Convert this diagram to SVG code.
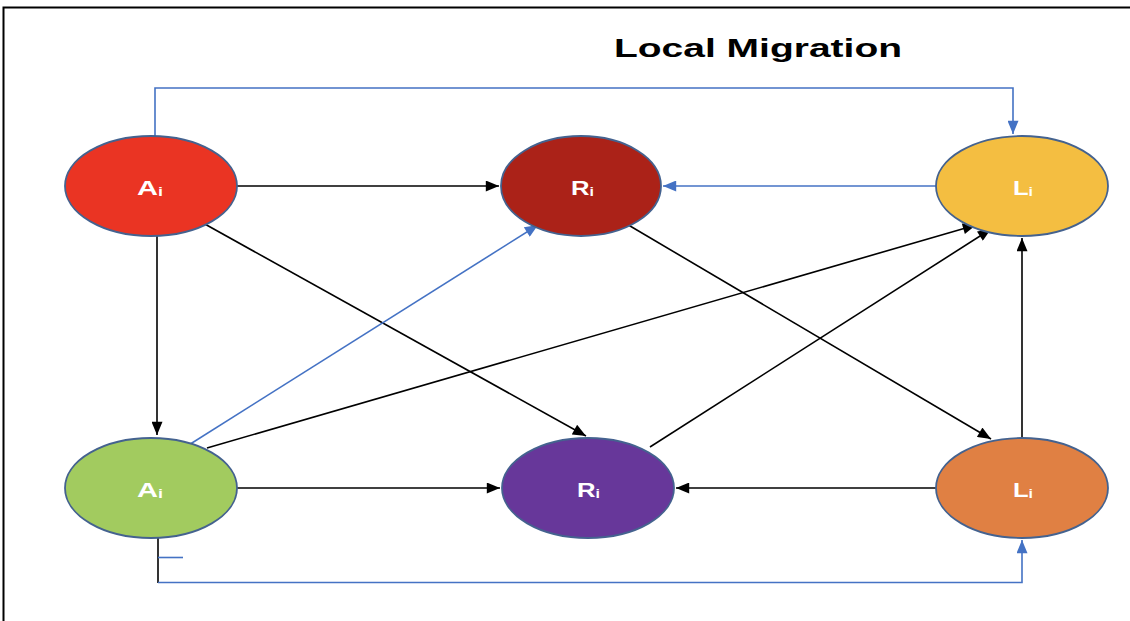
<svg xmlns="http://www.w3.org/2000/svg" width="1130" height="621" viewBox="0 0 1130 621">
  <style>
    .node { stroke: #44628f; stroke-width: 1.8; }
    .lbl { font-family: "Liberation Sans", Arial, sans-serif; font-size: 21px; font-weight: bold; fill: #ffffff; }
    .sub { font-size: 13px; }
    .k { fill: none; stroke: #000000; stroke-width: 1.6; }
    .b { fill: none; stroke: #4472c4; stroke-width: 1.6; }
    .title { font-family: "Liberation Sans", Arial, sans-serif; font-size: 25px; font-weight: bold; fill: #000000; }
  </style>
  <defs>
    <marker id="ak" viewBox="0 0 12 10" refX="12" refY="5" markerWidth="14" markerHeight="11" markerUnits="userSpaceOnUse" orient="auto">
      <path d="M0,0 L12,5 L0,10 Z" fill="#000000"/>
    </marker>
    <marker id="ab" viewBox="0 0 12 10" refX="12" refY="5" markerWidth="14" markerHeight="11" markerUnits="userSpaceOnUse" orient="auto">
      <path d="M0,0 L12,5 L0,10 Z" fill="#4472c4"/>
    </marker>
  </defs>

  <rect width="1130" height="621" fill="#ffffff"/>
  <!-- frame -->
  <path d="M3.5,621 V7.5 H1130" fill="none" stroke="#000000" stroke-width="2"/>

  <text class="title" x="614" y="57" textLength="288" lengthAdjust="spacingAndGlyphs">Local Migration</text>

  <g id="connectors">
    <path class="b" d="M155,136 V88 H1013 V134" marker-end="url(#ab)"/>
    <path class="k" d="M237,186 H499" marker-end="url(#ak)"/>
    <path class="b" d="M936,186 H663" marker-end="url(#ab)"/>
    <path class="k" d="M203,223 L586,436" marker-end="url(#ak)"/>
    <path class="k" d="M157,236 V435" marker-end="url(#ak)"/>
    <path class="b" d="M184,448 L538,225" marker-end="url(#ab)"/>
    <path class="k" d="M207,448 L976,225" marker-end="url(#ak)"/>
    <path class="k" d="M625,223 L991,439" marker-end="url(#ak)"/>
    <path class="k" d="M650,447 L991,229" marker-end="url(#ak)"/>
    <path class="k" d="M1022,437 V238" marker-end="url(#ak)"/>
    <path class="k" d="M936,488 H676" marker-end="url(#ak)"/>
    <path class="k" d="M237,488 H500" marker-end="url(#ak)"/>
    <path class="k" d="M158,538 V583"/>
    <path class="b" d="M158,557.5 H183"/>
    <path class="b" d="M158,582.5 H1022 V540" marker-end="url(#ab)"/>
  </g>

  <g id="node-a-top">
    <ellipse class="node" cx="151" cy="186" rx="86" ry="50" fill="#ea3423"/>
    <text class="lbl" x="137" y="195" textLength="26" lengthAdjust="spacingAndGlyphs">A<tspan class="sub" dy="1">i</tspan></text>
  </g>
  <g id="node-r-top">
    <ellipse class="node" cx="581" cy="186" rx="80" ry="50" fill="#ab2218"/>
    <text class="lbl" x="571" y="195" textLength="23" lengthAdjust="spacingAndGlyphs">R<tspan class="sub" dy="1">i</tspan></text>
  </g>
  <g id="node-l-top">
    <ellipse class="node" cx="1022" cy="186" rx="86" ry="50" fill="#f4be41"/>
    <text class="lbl" x="1013" y="195" textLength="20" lengthAdjust="spacingAndGlyphs">L<tspan class="sub" dy="1">i</tspan></text>
  </g>
  <g id="node-a-bottom">
    <ellipse class="node" cx="151" cy="488" rx="86" ry="50" fill="#a2cb5f"/>
    <text class="lbl" x="137" y="497" textLength="26" lengthAdjust="spacingAndGlyphs">A<tspan class="sub" dy="1">i</tspan></text>
  </g>
  <g id="node-r-bottom">
    <ellipse class="node" cx="588" cy="488" rx="86" ry="50" fill="#67379a"/>
    <text class="lbl" x="577" y="497" textLength="23" lengthAdjust="spacingAndGlyphs">R<tspan class="sub" dy="1">i</tspan></text>
  </g>
  <g id="node-l-bottom">
    <ellipse class="node" cx="1022" cy="488" rx="86" ry="50" fill="#e08043"/>
    <text class="lbl" x="1013" y="497" textLength="20" lengthAdjust="spacingAndGlyphs">L<tspan class="sub" dy="1">i</tspan></text>
  </g>
</svg>
